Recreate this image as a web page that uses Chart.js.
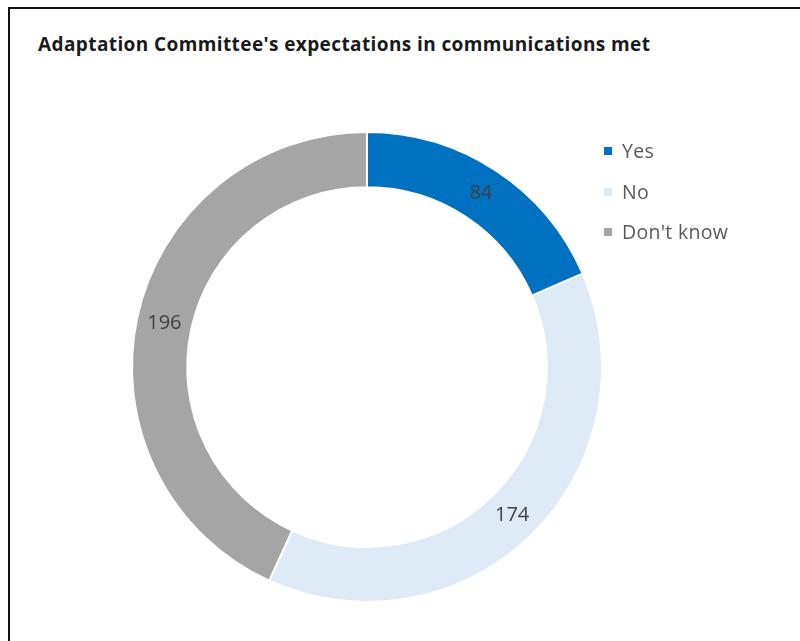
<!DOCTYPE html>
<html>
<head>
<meta charset="utf-8">
<script src="https://cdn.jsdelivr.net/npm/chart.js@4"></script>
<style>
  html, body { margin: 0; padding: 0; background: #fff; }
  #wrap { position: relative; width: 800px; height: 641px; overflow: hidden; }
  #frame { position: absolute; left: 8px; top: 7px; width: 800px; height: 700px;
           border-left: 2px solid #111; border-top: 2px solid #111; }
  #title { position: absolute; left: 38px; top: 31px; font-family: "Open Sans", sans-serif;
           font-weight: bold; font-size: 19px; letter-spacing: 0.4px; line-height: 26px;
           color: #1a1a1a; white-space: nowrap; }
  #chart { position: absolute; left: 0; top: 0; }
  #legend { position: absolute; left: 604px; top: 137px; font-family: "Open Sans", sans-serif;
            font-size: 19.5px; letter-spacing: 0.3px; line-height: 27px; color: #595959; }
  .item { height: 40.5px; display: flex; align-items: flex-start; white-space: nowrap; }
  .box { width: 8px; height: 8px; margin-top: 10px; margin-right: 10px; }
</style>
</head>
<body>
<div id="wrap">
  <div id="frame"></div>
  <div id="title">Adaptation Committee's expectations in communications met</div>
  <canvas id="chart" width="800" height="641"></canvas>
  <div id="legend"></div>
</div>
<script>
// datos del gráfico
const categories = ['Yes', 'No', "Don't know"];
const values = [84, 174, 196];
const colors = ['#0070C0', '#DEEAF6', '#A5A5A5'];

// etiquetas de valor en el centro del anillo
const ringLabels = {
    id: 'ringLabels',
    afterDatasetsDraw(chart) {
        const ctx = chart.ctx;
        const meta = chart.getDatasetMeta(0);
        ctx.save();
        ctx.font = '20px "Open Sans", sans-serif';
        ctx.fillStyle = '#404040';
        ctx.textAlign = 'center';
        ctx.textBaseline = 'middle';
        meta.data.forEach((arc, i) => {
            const p = arc.getProps(['x', 'y', 'startAngle', 'endAngle', 'innerRadius', 'outerRadius'], true);
            const a = (p.startAngle + p.endAngle) / 2;
            const r = (p.innerRadius + p.outerRadius) / 2;
            ctx.fillText(String(values[i]), p.x + Math.cos(a) * r, p.y + Math.sin(a) * r);
        });
        ctx.restore();
    }
};

function initializeChart() {
    const ctx = document.getElementById('chart').getContext('2d');
    const chart = new Chart(ctx, {
        type: 'doughnut',
        data: {
            labels: categories,
            datasets: [{
                data: values,
                backgroundColor: colors,
                borderColor: '#ffffff',
                borderWidth: 2
            }]
        },
        options: {
            responsive: false,
            animation: false,
            radius: 235,
            cutout: '76.5%',
            layout: { padding: { left: 127, right: 193, top: 127, bottom: 34 } },
            plugins: {
                legend: { display: false },
                tooltip: { enabled: false }
            }
        },
        plugins: [ringLabels]
    });

    // leyenda en HTML
    const legend = document.getElementById('legend');
    chart.data.labels.forEach((label, i) => {
        const item = document.createElement('div');
        item.className = 'item';
        item.innerHTML = '<span class="box" style="background:' + colors[i] + '"></span><span></span>';
        item.lastChild.textContent = label;
        legend.appendChild(item);
    });
}

document.addEventListener('DOMContentLoaded', initializeChart);
</script>
</body>
</html>
